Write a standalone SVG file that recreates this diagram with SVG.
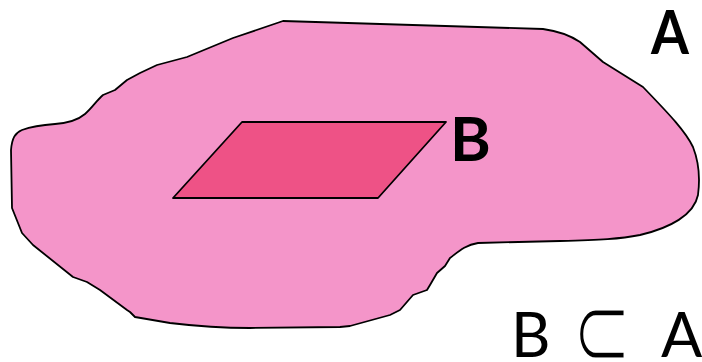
<svg xmlns="http://www.w3.org/2000/svg" width="702" height="362" viewBox="0 0 702 362">
<style>
.set{stroke:#000;stroke-width:1.8;stroke-linejoin:round}
.lbl{font-family:Lato,"Open Sans","DejaVu Sans",sans-serif;font-weight:bold;font-size:62px;fill:#000}
.eq{font-family:Lato,"DejaVu Sans",sans-serif;font-size:61px;fill:#000}
.sub{font-family:"DejaVu Sans",sans-serif;font-size:108px;fill:#000;stroke:#fff;stroke-width:3.2}
</style>
<rect width="702" height="362" fill="#fff"/>
<g id="setA">
<path class="set" fill="#F495C9" d="M 283 21 L 543 29 Q 565 32 580 42 L 603 62 L 643 87 C 665 110 685 130 693 147 C 700 165 700 180 698 195 C 694 215 670 228 640 235 C 620 239 600 240 560 241 L 478 243 C 465 245 458 252 450 258 L 445 266 L 437 273 L 430 285 L 427 290 L 413 295 L 400 310 L 390 315 L 350 326 L 340 327 L 250 328 C 220 328 195 326 170 323 L 135 317 L 130 312 L 127 310 L 100 290 L 87 282 L 73 277 L 33 245 L 22 233 L 12 208 L 11 150 C 12 138 15 133 22 130 C 30 127 40 125 55 124 C 68 123 78 120 85 114 C 92 108 97 100 103 95 L 115 90 L 127 80 L 140 73 L 157 65 L 187 57 L 233 38 Z"/>
<text class="lbl" transform="translate(651,54) scale(0.88,1)" x="0" y="0">A</text>
</g>
<g id="setB">
<polygon class="set" fill="#EE5286" points="242,122 446,122 378,198 173,198"/>
<text class="lbl" x="450" y="161">B</text>
</g>
<g id="relation">
<text class="eq" x="511" y="357">B</text>
<text class="sub" transform="translate(580,368) scale(0.66,1)" x="-12" y="0">⊂</text>
<text class="eq" x="661" y="357">A</text>
</g>
</svg>
